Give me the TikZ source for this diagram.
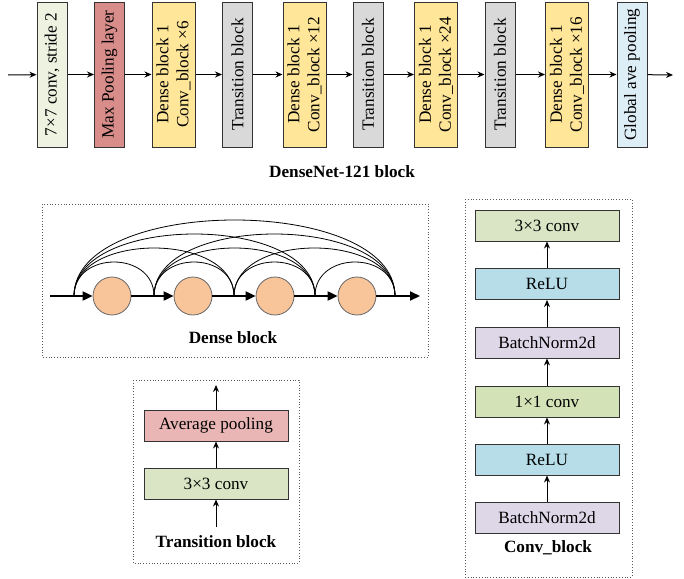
\documentclass[tikz,border=0pt]{standalone}
\usepackage{fontspec}
\setmainfont{Liberation Serif}
\usetikzlibrary{arrows.meta}
\definecolor{stemcol}{HTML}{EEF3E1}
\definecolor{maxcol}{HTML}{D88D8A}
\definecolor{densecol}{HTML}{FFE699}
\definecolor{transcol}{HTML}{D9D9D9}
\definecolor{gapcol}{HTML}{DEEEF6}
\definecolor{avgcol}{HTML}{EAB6B5}
\definecolor{convcol}{HTML}{D9E5C4}
\definecolor{onecol}{HTML}{D3E3B7}
\definecolor{relucol}{HTML}{B6DDE8}
\definecolor{bncol}{HTML}{DDD7E8}
\definecolor{unitcol}{HTML}{F8C49A}
\tikzset{
  blk/.style={draw=black!80, line width=0.5pt, inner sep=0pt, align=center,
    font=\fontsize{8.6}{10}\selectfont},
  vblk/.style={blk, rotate=90, minimum width=72.5pt, minimum height=15pt},
  wblk/.style={blk, rotate=90, minimum width=72.5pt, minimum height=21.5pt},
  hblk/.style={blk, minimum width=72pt, minimum height=15.5pt},
  frame/.style={densely dotted, draw=black!65, line width=0.4pt},
  captxt/.style={font=\fontsize{8.6}{10}\selectfont\bfseries},
  arr/.style={-{Stealth[length=3.5pt,width=3pt]}, line width=0.5pt},
  flow/.style={-{Triangle[length=5pt,width=4.5pt]}, line width=1pt},
  unit/.style={circle, draw=black!60, line width=0.4pt, fill=unitcol, minimum size=19pt, inner sep=0pt},
  skip/.style={line width=0.4pt}
}
\begin{document}
\begin{tikzpicture}[x=0.5pt,y=-0.5pt]
\useasboundingbox (0,0) rectangle (684,578);
% DenseNet-121 main row
\coordinate (in) at (8,75);
\coordinate (out) at (673,75);
\node[vblk, fill=stemcol] (s1) at (52,74.5) {7×7 conv, stride 2};
\node[vblk, fill=maxcol] (s2) at (109.5,74.5) {Max Pooling layer};
\node[wblk, fill=densecol] (s3) at (173.5,74.5) {Dense block 1\\Conv\_block ×6};
\node[vblk, fill=transcol] (s4) at (237.5,74.5) {Transition block};
\node[wblk, fill=densecol] (s5) at (304.5,74.5) {Dense block 1\\Conv\_block ×12};
\node[vblk, fill=transcol] (s6) at (368,74.5) {Transition block};
\node[wblk, fill=densecol] (s7) at (436,74.5) {Dense block 1\\Conv\_block ×24};
\node[vblk, fill=transcol] (s8) at (500,74.5) {Transition block};
\node[wblk, fill=densecol] (s9) at (567,74.5) {Dense block 1\\Conv\_block ×16};
\node[vblk, fill=gapcol] (s10) at (632,74.5) {Global ave pooling};
\draw[arr] (in) -- (s1);
\foreach \i [evaluate=\i as \j using int(\i+1)] in {1,...,9}
  \draw[arr] (s\i) -- (s\j);
\draw[arr] (s10) -- (out);
\node[captxt] (netcap) at (342,172) {DenseNet-121 block};

% dense block
\draw[frame] (42,204) rectangle (428,357);
\coordinate (d0) at (50,296);
\coordinate (d5) at (420,296);
\node[unit] (c1) at (112,296) {};
\node[unit] (c2) at (193,296) {};
\node[unit] (c3) at (275,296) {};
\node[unit] (c4) at (357,296) {};
\coordinate (p0) at (74,296);
\coordinate (p1) at (154,296);
\coordinate (p2) at (234,296);
\coordinate (p3) at (315,296);
\coordinate (p4) at (395,296);
\foreach \i in {0,...,3}{
  \pgfmathtruncatemacro\first{\i+1}
  \foreach \j in {\first,...,4}{
    \pgfmathsetmacro\h{(20+14*(\j-\i))*4/3}
    \draw[skip] (p\i) .. controls +(0,-\h) and +(0,-\h) .. (p\j);
  }
}
\draw[flow] (d0) -- (c1);
\draw[flow] (c1) -- (c2);
\draw[flow] (c2) -- (c3);
\draw[flow] (c3) -- (c4);
\draw[flow] (c4) -- (d5);
\node[captxt] (densecap) at (233,338) {Dense block};

% transition block
\draw[frame] (133,380) rectangle (299,563);
\coordinate (tin) at (216,527);
\coordinate (tout) at (216,385);
\node[hblk, fill=convcol] (t1) at (216,483.5) {3×3 conv};
\node[hblk, fill=avgcol] (t2) at (216,425.5) {Average pooling};
\draw[arr] (tin) -- (t1);
\draw[arr] (t1) -- (t2);
\draw[arr] (t2) -- (tout);
\node[captxt] (transcap) at (216,542) {Transition block};

% conv block
\draw[frame] (465,199) rectangle (632,577);
\node[hblk, fill=bncol] (k1) at (547,518) {BatchNorm2d};
\node[hblk, fill=relucol] (k2) at (547,459.5) {ReLU};
\node[hblk, fill=onecol] (k3) at (547,401.5) {1×1 conv};
\node[hblk, fill=bncol] (k4) at (547,342.5) {BatchNorm2d};
\node[hblk, fill=relucol] (k5) at (547,284) {ReLU};
\node[hblk, fill=convcol] (k6) at (547,225.5) {3×3 conv};
\foreach \i [evaluate=\i as \j using int(\i+1)] in {1,...,5}
  \draw[arr] (k\i) -- (k\j);
\node[captxt] (convcap) at (548,548) {Conv\_block};
\end{tikzpicture}
\end{document}
